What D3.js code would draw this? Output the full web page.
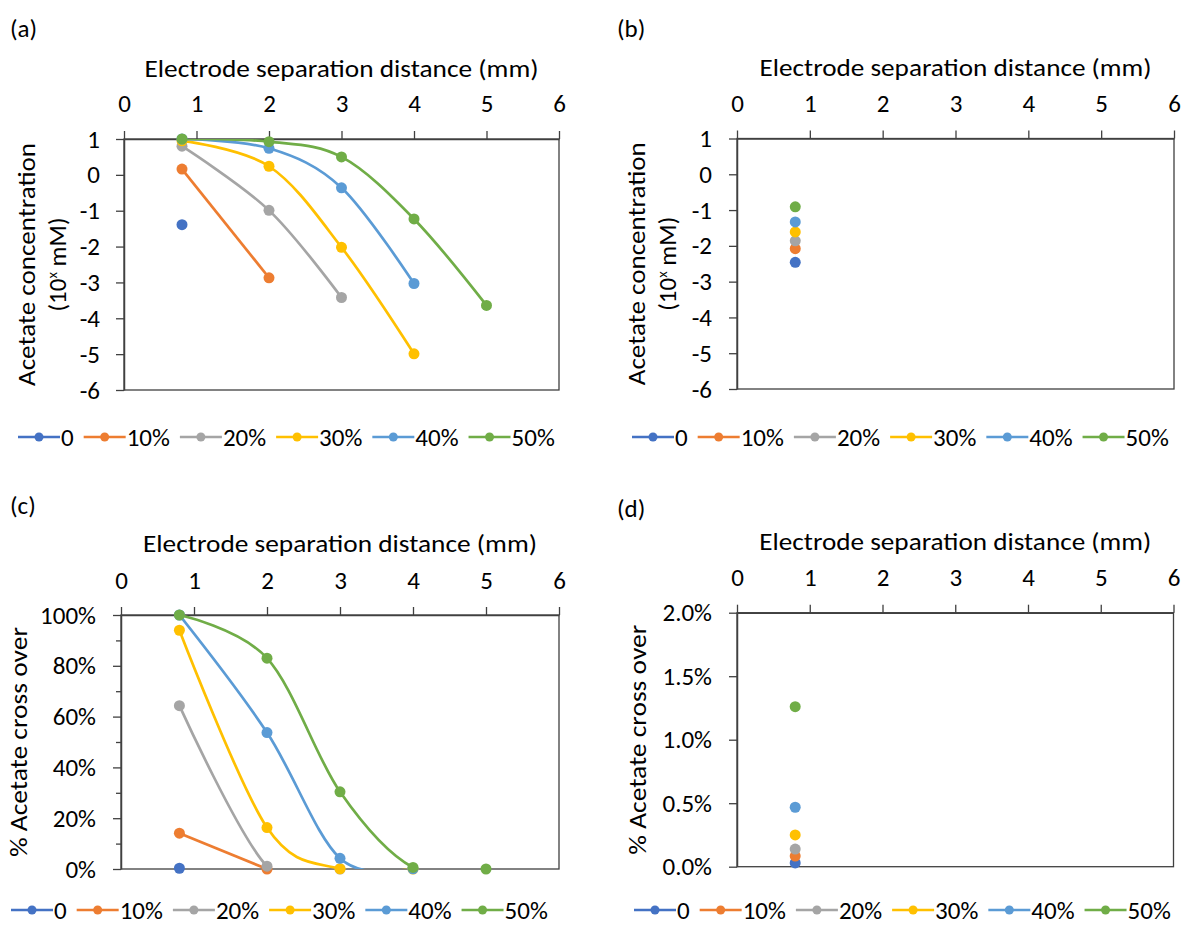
<!DOCTYPE html>
<html>
<head>
<meta charset="utf-8">
<script src="https://cdn.jsdelivr.net/npm/d3@7"></script>
<style>
  html, body { margin: 0; padding: 0; background: #fff; }
  svg { display: block; }
  text { font-family: Carlito, Calibri, Lato, "Open Sans", sans-serif; fill: #000; }
</style>
</head>
<body>
<svg id="chart" width="1185" height="928"></svg>
<script>
// ---------------- data ----------------
const seriesNames = ["0", "10%", "20%", "30%", "40%", "50%"];
const distances = [0.8, 2, 3, 4, 5];           // mm, value i of every series sits at distances[i]
const xTickValues = [0, 1, 2, 3, 4, 5, 6];

// (a) log10 acetate concentration
const logConcA = [
  [-1.39],
  [0.16, -2.87],
  [0.80, -0.99, -3.42],
  [0.95, 0.24, -2.02, -4.99],
  [1.00, 0.74, -0.36, -3.03],
  [1.00, 0.925, 0.50, -1.23, -3.64]
];
// (b) log10 acetate concentration
const logConcB = [[-2.46], [-2.08], [-1.86], [-1.61], [-1.33], [-0.91]];
// (c) fraction acetate cross over
const crossC = [
  [0.003],
  [0.141, 0.0],
  [0.643, 0.011, 0.0],
  [0.94, 0.163, 0.001, 0.0],
  [1.0, 0.537, 0.042, 0.001],
  [1.0, 0.83, 0.304, 0.006, 0.0]
];
// (d) fraction acetate cross over
const crossD = [[0.0003], [0.00084], [0.00139], [0.0025], [0.00468], [0.0126]];

const yTicksConc = [-6, -5, -4, -3, -2, -1, 0, 1];
const yTicksC = [0, 0.1, 0.2, 0.3, 0.4, 0.5, 0.6, 0.7, 0.8, 0.9, 1.0];
const yTicksD = [0, 0.005, 0.01, 0.015, 0.02];

const xTitle = "Electrode separation distance (mm)";
const colors = ["#4472C4", "#ED7D31", "#A5A5A5", "#FFC000", "#5B9BD5", "#70AD47"];

// ---------------- drawing ----------------
const svg = d3.select("#chart");
const FS = 25;
const AX = "#404040";

function drawPanel(p) {
  const g = svg.append("g");
  const x = d3.scaleLinear().domain([0, 6]).range([p.left, p.right]);
  const y = d3.scaleLinear().domain(p.yDomain).range([p.bottom, p.top]);

  // panel label
  g.append("text").attr("x", p.labelX).attr("y", p.labelY).attr("dy", "0.35em")
    .attr("font-size", FS).text(p.label);

  // plot area border
  g.append("rect").attr("x", p.left).attr("y", p.top)
    .attr("width", p.right - p.left).attr("height", p.bottom - p.top)
    .attr("fill", "none").attr("stroke", AX).attr("stroke-width", 1.3);

  // x axis (top)
  const xa = g.append("g").attr("transform", `translate(0,${p.top})`)
    .call(d3.axisTop(x).tickValues(xTickValues).tickSize(8).tickSizeOuter(0).tickFormat(d => String(d)));
  xa.select(".domain").attr("stroke", AX).attr("stroke-width", 1.5);
  xa.selectAll(".tick line").attr("stroke", AX).attr("stroke-width", 1.3);
  xa.selectAll(".tick text").attr("font-size", FS).attr("fill", "#000")
    .attr("y", p.xTickY - p.top).attr("dy", "0.35em").attr("font-family", null);

  // x title
  g.append("text").attr("x", (p.left + p.right) / 2).attr("y", p.titleY).attr("dy", "0.35em")
    .attr("text-anchor", "middle").attr("font-size", FS)
    .attr("textLength", p.titleLen).attr("lengthAdjust", "spacingAndGlyphs").text(xTitle);

  // y axis
  const ya = g.append("g").attr("transform", `translate(${p.left},0)`)
    .call(d3.axisLeft(y).tickValues(p.yTicks).tickSize(8).tickSizeOuter(0).tickFormat(p.yFormat));
  ya.select(".domain").attr("stroke", AX).attr("stroke-width", 1.5);
  ya.selectAll(".tick line").attr("stroke", AX).attr("stroke-width", 1.3)
    .attr("x2", d => (p.minor && p.minor(d)) ? -5 : -8);
  ya.selectAll(".tick text").attr("font-size", FS).attr("fill", "#000")
    .attr("x", -(p.left - p.yTickRight)).attr("font-family", null);

  // y title
  const yc = (p.top + p.bottom) / 2;
  p.yTitle.forEach((line, i) => {
    const t = g.append("text")
      .attr("transform", `translate(${p.yTitleX[i]},${yc}) rotate(-90)`)
      .attr("text-anchor", "middle").attr("dy", "0.35em").attr("font-size", FS);
    if (Array.isArray(line)) {
      t.append("tspan").text(line[0]);
      t.append("tspan").attr("font-size", FS * 0.6).attr("dy", "-0.6em").text(line[1]);
      t.append("tspan").attr("dy", "0.36em").text(line[2]);
    } else {
      t.attr("textLength", p.yTitleLen).attr("lengthAdjust", "spacingAndGlyphs").text(line);
    }
  });

  // clip
  const cid = "clip" + p.label.replace(/[()]/g, "");
  svg.append("clipPath").attr("id", cid).append("rect")
    .attr("x", p.left).attr("y", p.top).attr("width", p.right - p.left).attr("height", p.bottom - p.top);

  const line = d3.line().x(d => x(d[0])).y(d => y(d[1])).curve(d3.curveCardinal.tension(0));

  p.values.forEach((vals, si) => {
    const pts = vals.map((v, i) => [distances[i], v]);
    if (pts.length > 1) {
      g.append("path").datum(pts).attr("d", line).attr("fill", "none")
        .attr("stroke", colors[si]).attr("stroke-width", 2.7)
        .attr("clip-path", `url(#${cid})`);
    }
    g.selectAll(null).data(pts).enter().append("circle")
      .attr("cx", d => x(d[0])).attr("cy", d => y(d[1])).attr("r", 5.5)
      .attr("fill", colors[si]);
  });

  // legend
  const lg = g.append("g").attr("transform", `translate(0,${p.legendY})`);
  let cx = p.legendX;
  seriesNames.forEach((name, i) => {
    lg.append("line").attr("x1", cx).attr("x2", cx + 42).attr("y1", 0).attr("y2", 0)
      .attr("stroke", colors[i]).attr("stroke-width", 2.7);
    lg.append("circle").attr("cx", cx + 21).attr("cy", 0).attr("r", 4.5).attr("fill", colors[i]);
    const t = lg.append("text").attr("x", cx + 43).attr("y", 0).attr("dy", "0.35em")
      .attr("font-size", FS).text(name);
    cx = cx + 43 + t.node().getComputedTextLength() + 10;
  });
}

const fmtInt = d => String(d);
const fmtC = d => (Math.round(d * 10) % 2 === 0 ? Math.round(d * 100) + "%" : "");
const minorC = d => Math.round(d * 10) % 2 !== 0;
const fmtD = d => (d * 100).toFixed(1) + "%";

drawPanel({ label: "(a)", labelX: 10, labelY: 28, left: 124, right: 559, top: 139, bottom: 390,
  yDomain: [-6, 1], yTicks: yTicksConc, yFormat: fmtInt, xTickY: 103, titleY: 68, titleLen: 394,
  yTickRight: 100, yTitle: ["Acetate concentration", ["(10", "x", " mM)"]], yTitleX: [26, 57], yTitleLen: 243,
  values: logConcA, legendX: 18, legendY: 437 });

drawPanel({ label: "(b)", labelX: 617, labelY: 28, left: 737, right: 1174, top: 138.5, bottom: 389,
  yDomain: [-6, 1], yTicks: yTicksConc, yFormat: fmtInt, xTickY: 103, titleY: 67, titleLen: 392,
  yTickRight: 712, yTitle: ["Acetate concentration", ["(10", "x", " mM)"]], yTitleX: [636, 667], yTitleLen: 243,
  values: logConcB, legendX: 632, legendY: 437 });

drawPanel({ label: "(c)", labelX: 10, labelY: 505, left: 121, right: 559, top: 615, bottom: 869,
  yDomain: [0, 1], yTicks: yTicksC, yFormat: fmtC, minor: minorC, xTickY: 580, titleY: 543, titleLen: 394,
  yTickRight: 96, yTitle: ["% Acetate cross over"], yTitleX: [18], yTitleLen: 230,
  values: crossC, legendX: 11, legendY: 910 });

drawPanel({ label: "(d)", labelX: 617, labelY: 508, left: 737, right: 1173.5, top: 612.7, bottom: 866.7,
  yDomain: [0, 0.02], yTicks: yTicksD, yFormat: fmtD, xTickY: 577, titleY: 541, titleLen: 392,
  yTickRight: 712, yTitle: ["% Acetate cross over"], yTitleX: [637], yTitleLen: 230,
  values: crossD, legendX: 634, legendY: 910 });
</script>
</body>
</html>
